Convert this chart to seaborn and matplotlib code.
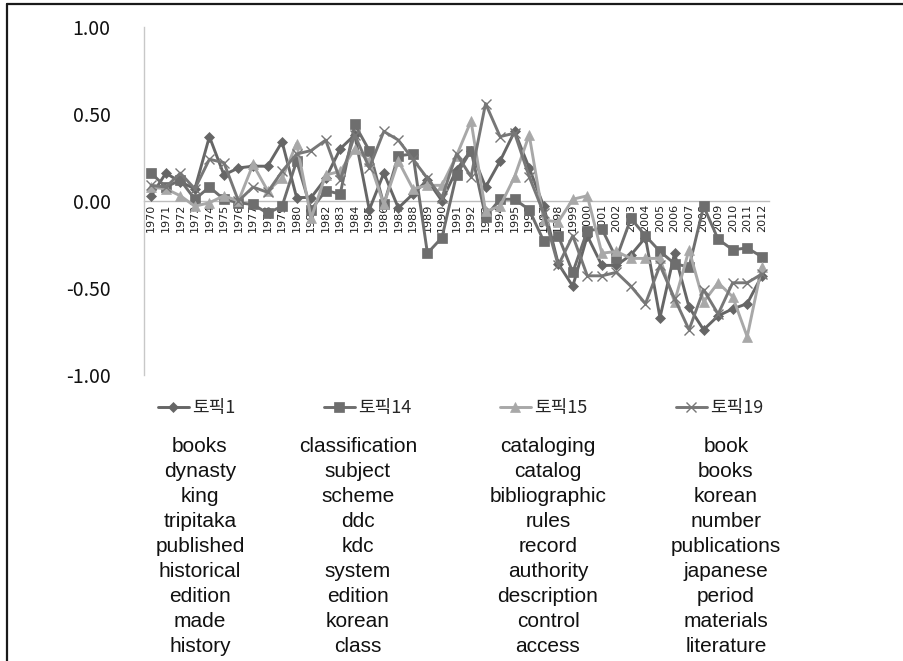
import matplotlib
matplotlib.use("Agg")
import matplotlib.pyplot as plt
import pandas as pd
import seaborn as sns
from matplotlib.lines import Line2D

years = list(range(1970, 2013))

topic1 = [0.03, 0.16, 0.11, 0.07, 0.37, 0.15, 0.19, 0.20, 0.20, 0.34,
          0.02, 0.02, 0.13, 0.30, 0.38, -0.05, 0.16, -0.04, 0.04, 0.12,
          0.00, 0.18, 0.29, 0.08, 0.23, 0.40, 0.19, -0.03, -0.36, -0.49,
          -0.20, -0.37, -0.37, -0.31, -0.21, -0.67, -0.30, -0.61, -0.74, -0.66,
          -0.62, -0.59, -0.43]
topic14 = [0.16, 0.08, 0.12, 0.01, 0.08, 0.01, -0.01, -0.02, -0.07, -0.03,
           0.23, -0.05, 0.06, 0.04, 0.44, 0.29, -0.02, 0.26, 0.27, -0.30,
           -0.21, 0.15, 0.29, -0.09, 0.01, 0.01, -0.05, -0.23, -0.20, -0.41,
           -0.17, -0.16, -0.33, -0.10, -0.20, -0.29, -0.36, -0.38, -0.03, -0.22,
           -0.28, -0.27, -0.32]
topic15 = [0.08, 0.07, 0.03, -0.03, -0.01, 0.03, 0.00, 0.21, 0.06, 0.13,
           0.33, -0.10, 0.15, 0.17, 0.30, 0.23, -0.02, 0.23, 0.07, 0.09,
           0.09, 0.26, 0.46, -0.06, -0.03, 0.14, 0.38, -0.11, -0.12, 0.01,
           0.03, -0.30, -0.29, -0.33, -0.33, -0.33, -0.58, -0.28, -0.58, -0.47,
           -0.55, -0.78, -0.38]
topic19 = [0.09, 0.08, 0.16, 0.07, 0.24, 0.22, 0.00, 0.08, 0.05, 0.17,
           0.27, 0.29, 0.35, 0.12, 0.38, 0.19, 0.40, 0.35, 0.24, 0.13,
           0.02, 0.27, 0.14, 0.56, 0.37, 0.39, 0.14, -0.07, -0.37, -0.20,
           -0.43, -0.43, -0.41, -0.49, -0.59, -0.37, -0.56, -0.74, -0.51, -0.65,
           -0.47, -0.47, -0.42]

series_names = ["토픽1", "토픽14", "토픽15", "토픽19"]
series_values = [topic1, topic14, topic15, topic19]
colors = ["#666666", "#6e6e6e", "#a8a8a8", "#777777"]
markers = ["D", "s", "^", "x"]
marker_sizes = [5, 7, 7, 7]

y_ticks = [1.0, 0.5, 0.0, -0.5, -1.0]
y_tick_labels = ["1.00", "0.50", "0.00", "-0.50", "-1.00"]

topic_words = [
    ["books", "dynasty", "king", "tripitaka", "published", "historical", "edition", "made", "history"],
    ["classification", "subject", "scheme", "ddc", "kdc", "system", "edition", "korean", "class"],
    ["cataloging", "catalog", "bibliographic", "rules", "record", "authority", "description", "control", "access"],
    ["book", "books", "korean", "number", "publications", "japanese", "period", "materials", "literature"],
]
word_col_x = [200, 358, 548, 726]

sns.set_style("white")
plt.rcParams["font.family"] = ["Noto Sans CJK KR", "DejaVu Sans"]

W, H = 904, 661
fig = plt.figure(figsize=(W / 100, H / 100), dpi=100)
ax = fig.add_axes([144 / W, 1 - 375 / H, 625 / W, 348 / H])

for name, vals, c, m, ms in zip(series_names, series_values, colors, markers, marker_sizes):
    df = pd.DataFrame({"year": years, "value": vals})
    sns.lineplot(data=df, x="year", y="value", ax=ax, color=c, lw=2.1,
                 marker=m, markersize=ms, markeredgecolor=c,
                 markeredgewidth=1.0 if m == "x" else 0.5, label=name)

ax.set_xlim(1969.5, 2012.5)
ax.set_ylim(-1.0, 1.0)
ax.set_xlabel("")
ax.set_ylabel("")

ax.spines["top"].set_visible(False)
ax.spines["right"].set_visible(False)
ax.spines["bottom"].set_position(("data", 0))
ax.spines["bottom"].set_color("#bdbdbd")
ax.spines["left"].set_color("#c8c8c8")
ax.spines["bottom"].set_linewidth(1.0)
ax.spines["left"].set_linewidth(1.0)
ax.spines["bottom"].set_zorder(0)

ax.set_xticks(years)
ax.set_xticklabels([str(y) for y in years], rotation=90, fontsize=8,
                   color="#222222", family="DejaVu Sans")
ax.tick_params(axis="x", length=0, pad=2)
ax.set_yticks(y_ticks)
ax.set_yticklabels(y_tick_labels, fontsize=14, color="#111111")
ax.tick_params(axis="y", length=0, pad=24)

handles, labels = ax.get_legend_handles_labels()
ax.get_legend().remove()
fig.legend(handles, labels, loc="center left", ncol=4,
           bbox_to_anchor=(158 / W, 1 - 408 / H), frameon=False,
           fontsize=13, handlelength=1.7, handletextpad=0.2,
           columnspacing=4.9, borderpad=0, borderaxespad=0)

row_y = [447 + 24.9 * i for i in range(9)]
for cx, words in zip(word_col_x, topic_words):
    for y, w in zip(row_y, words):
        fig.text(cx / W, 1 - y / H, w, ha="center", va="center",
                 fontsize=15, family="Liberation Sans", color="#111111")

# frame lines on top and left
fig.add_artist(Line2D([7 / W, 7 / W], [0, 1 - 4 / H], transform=fig.transFigure,
                      color="#1a1a1a", lw=1.6))
fig.add_artist(Line2D([7 / W, 1], [1 - 4 / H, 1 - 4 / H], transform=fig.transFigure,
                      color="#1a1a1a", lw=1.6))

fig.savefig("out.png", dpi=100)
plt.close(fig)
